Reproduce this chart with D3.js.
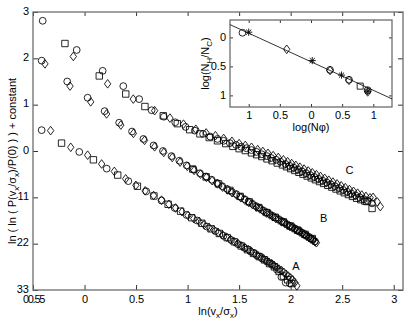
<!DOCTYPE html>
<html><head><meta charset="utf-8">
<script src="https://cdn.jsdelivr.net/npm/d3@7"></script>
<style>
html,body{margin:0;padding:0;background:#fff;}
svg{display:block;font-family:"Liberation Sans",Arial,Helvetica,sans-serif;}
</style></head><body>
<svg id="chart" width="409" height="325"></svg>
<script>
// ---------- main axes ticks ----------
const xTicks = [-0.5,0,0.5,1,1.5,2,2.5,3];
const xTickLabels = ["00.55","0","0.5","1","1.5","2","2.5","3"];
const yTicks = [3,2,1,0,-1,-2,-3];
const yTickLabels = ["3","2","1","0","11","22","33"];

// ---------- series A ----------
const aCircX = [-0.416,-0.051,0.215,0.425,0.599,0.747,0.875,0.990,1.092,1.185,1.270,1.348,1.421,1.488,1.552,1.611,1.668,1.721,1.771,1.820,1.866,1.910,1.952,1.992];
const aCircY = [0.45,-0.02,-0.38,-0.65,-0.87,-1.07,-1.23,-1.38,-1.50,-1.63,-1.73,-1.83,-1.92,-2.01,-2.09,-2.17,-2.25,-2.32,-2.39,-2.46,-2.56,-2.72,-2.84,-2.86];
const aSqX = [-0.223,0.086,0.322,0.513,0.673,0.811,0.932,1.040,1.138,1.227,1.308,1.384,1.454,1.520,1.581,1.639,1.694,1.746,1.795,1.842,1.887,1.930,1.971,2.011];
const aSqY = [0.17,-0.19,-0.52,-0.76,-0.97,-1.15,-1.30,-1.44,-1.56,-1.68,-1.78,-1.87,-1.96,-2.05,-2.13,-2.21,-2.28,-2.35,-2.43,-2.50,-2.60,-2.70,-2.78,-2.86];
const aDiaX = [-0.329,-0.134,0.030,0.166,0.289,0.399,0.498,0.588,0.670,0.747,0.818,0.884,0.946,1.004,1.060,1.112,1.161,1.209,1.254,1.297,1.339,1.379,1.417,1.454,1.490,1.524,1.557,1.589,1.620,1.651,1.680,1.708,1.736,1.763,1.789,1.815,1.840,1.864,1.888,1.911,1.934,1.956,1.977,1.999,2.020,2.040,2.060];
const aDiaY = [0.44,0.08,-0.09,-0.28,-0.44,-0.60,-0.74,-0.86,-0.96,-1.06,-1.15,-1.23,-1.31,-1.39,-1.46,-1.52,-1.59,-1.65,-1.70,-1.76,-1.81,-1.86,-1.91,-1.96,-2.00,-2.05,-2.09,-2.13,-2.17,-2.21,-2.25,-2.29,-2.32,-2.36,-2.40,-2.43,-2.47,-2.51,-2.55,-2.58,-2.62,-2.66,-2.70,-2.74,-2.78,-2.84,-2.91];

// ---------- series B ----------
const bCircX = [-0.416,-0.168,0.030,0.195,0.336,0.461,0.571,0.670,0.761,0.844,0.920,0.991,1.058,1.120,1.179,1.234,1.286,1.336,1.384,1.429,1.472,1.514,1.554,1.592,1.629,1.665,1.699,1.733,1.765,1.796,1.826,1.856,1.884,1.912,1.939,1.965,1.991,2.016,2.040,2.064,2.087,2.110,2.132,2.153,2.175,2.195,2.216,2.236];
const bCircY = [1.95,1.50,1.15,0.86,0.61,0.42,0.26,0.12,0.00,-0.11,-0.21,-0.31,-0.40,-0.48,-0.55,-0.62,-0.69,-0.76,-0.82,-0.88,-0.93,-0.99,-1.04,-1.09,-1.14,-1.19,-1.23,-1.28,-1.32,-1.36,-1.40,-1.44,-1.47,-1.51,-1.54,-1.58,-1.61,-1.64,-1.67,-1.70,-1.73,-1.76,-1.79,-1.82,-1.85,-1.88,-1.91,-1.95];
const bSqX = [1.05,1.18,1.30,1.41,1.51,1.60,1.69,1.77,1.85,1.93,2.00,2.07,2.14,2.21];
const bSqY = [-0.39,-0.56,-0.71,-0.85,-0.98,-1.10,-1.22,-1.33,-1.43,-1.53,-1.62,-1.71,-1.80,-1.89];
const bDiaX = [-0.384,-0.141,0.060,0.214,0.352,0.474,0.582,0.680,0.769,0.851,0.927,0.997,1.063,1.125,1.183,1.238,1.290,1.340,1.387,1.432,1.475,1.517,1.556,1.594,1.631,1.667,1.701,1.734,1.766,1.797,1.827,1.857,1.885,1.913,1.940,1.966,1.992,2.017,2.041,2.065,2.088,2.111,2.133,2.154,2.176,2.196,2.217,2.237,2.250];
const bDiaY = [1.88,1.40,1.06,0.80,0.56,0.38,0.23,0.09,-0.03,-0.14,-0.24,-0.33,-0.42,-0.50,-0.57,-0.64,-0.71,-0.78,-0.84,-0.90,-0.95,-1.01,-1.06,-1.11,-1.16,-1.21,-1.25,-1.30,-1.34,-1.38,-1.42,-1.46,-1.49,-1.53,-1.56,-1.60,-1.63,-1.66,-1.69,-1.72,-1.75,-1.78,-1.81,-1.84,-1.87,-1.90,-1.93,-1.96,-1.98];

// ---------- series C ----------
const cCircX = [-0.406,-0.076,0.176,0.376,0.53,0.651,0.77,0.88,0.98,1.07,1.15,1.22,1.29,1.35,1.41,1.47,1.52,1.57,1.62,1.67,1.72,1.77,1.81,1.86,1.90,1.95,1.99,2.03,2.07,2.11,2.15,2.19,2.23,2.27,2.31,2.35,2.39,2.43,2.47,2.51,2.55,2.59,2.63,2.67,2.71,2.75,2.79];
const cCircY = [2.81,2.18,1.73,1.40,1.12,0.88,0.74,0.62,0.52,0.44,0.37,0.31,0.26,0.22,0.17,0.13,0.09,0.06,0.02,-0.02,-0.07,-0.11,-0.15,-0.19,-0.23,-0.28,-0.32,-0.36,-0.40,-0.44,-0.48,-0.52,-0.56,-0.60,-0.64,-0.68,-0.72,-0.76,-0.80,-0.84,-0.88,-0.92,-0.96,-1.00,-1.04,-1.08,-1.13];
const cSqX = [-0.19,0.143,0.40,0.586,0.764,0.90,1.02,1.12,1.21,1.29,1.37,1.44,1.50,1.56,1.62,1.67,1.72,1.77,1.82,1.87,1.92,1.96,2.00,2.04,2.08,2.12,2.16,2.20,2.24,2.28,2.32,2.36,2.40,2.44,2.48,2.52,2.56,2.60,2.64,2.68,2.72,2.74,2.79];
const cSqY = [2.32,1.62,1.23,0.96,0.76,0.59,0.46,0.37,0.29,0.22,0.16,0.10,0.05,0.01,-0.04,-0.08,-0.12,-0.17,-0.21,-0.26,-0.30,-0.34,-0.38,-0.42,-0.46,-0.50,-0.54,-0.58,-0.62,-0.66,-0.70,-0.74,-0.78,-0.82,-0.86,-0.90,-0.94,-0.98,-1.02,-1.05,-1.08,-1.09,-1.24];
const cDiaX = [-0.109,0.224,0.473,0.68,0.829,0.96,1.08,1.18,1.27,1.35,1.43,1.50,1.56,1.62,1.68,1.73,1.78,1.83,1.88,1.93,1.97,2.01,2.05,2.09,2.13,2.17,2.21,2.25,2.29,2.33,2.37,2.41,2.45,2.49,2.53,2.57,2.61,2.65,2.69,2.73,2.77,2.80,2.84,2.87];
const cDiaY = [2.04,1.45,1.12,0.87,0.71,0.58,0.47,0.39,0.33,0.27,0.21,0.16,0.12,0.08,0.03,-0.01,-0.05,-0.10,-0.14,-0.19,-0.23,-0.27,-0.31,-0.35,-0.39,-0.43,-0.47,-0.51,-0.55,-0.59,-0.63,-0.67,-0.71,-0.75,-0.79,-0.83,-0.87,-0.91,-0.95,-0.98,-1.01,-1.00,-1.10,-1.20];

// series labels (data coordinates)
const seriesNames = ["A","B","C"];
const seriesLabelX = [2.05,2.32,2.57];
const seriesLabelY = [-2.48,-1.45,-0.41];

// ---------- inset ----------
const insetXTicks = [-1,-0.5,0,0.5,1];
const insetXTickLabels = ["1","0.5","0","0.5","1"];
const insetYTicks = [0,0.5,1];
const insetYTickLabels = ["0","0.5","1"];
const insetCircX = [-1.10,0.305,0.61,0.91];
const insetCircY = [-0.08,0.56,0.73,0.91];
const insetStarX = [-1.0,0.02,0.49,0.91];
const insetStarY = [-0.09,0.40,0.65,0.93];
const insetDiaX = [-0.39,0.305,0.61,0.91];
const insetDiaY = [0.205,0.57,0.74,0.94];
const insetSqX = [0.79];
const insetSqY = [0.84];
const fitX = [-1.3,1.3];
const fitY = [-0.22,1.06];

// ================= drawing =================
const svg = d3.select("#chart");
const M = {l:33, r:403, t:12, b:290};
const x = d3.scaleLinear().domain([-0.5,3.09]).range([M.l,M.r]);
const y = d3.scaleLinear().domain([3,-3]).range([M.t,M.b]);
const frameColor = "#6e6e6e";

svg.append("rect").attr("width",409).attr("height",325).attr("fill","#fff");

function styleAxis(g){
  g.select(".domain").remove();
  g.selectAll(".tick line").attr("stroke","#000").attr("stroke-width",0.8);
  g.selectAll(".tick text").attr("fill","#000").style("font-size","11px")
    .style("font-family",'"Liberation Sans",Arial,sans-serif');
}
// bottom
svg.append("g").attr("transform",`translate(0,${M.b})`)
  .call(d3.axisBottom(x).tickValues(xTicks).tickFormat((d,i)=>xTickLabels[i]).tickSize(-5).tickPadding(5))
  .call(styleAxis)
  .call(g=>g.selectAll(".tick text").filter((d,i)=>i===0).style("letter-spacing","-1.3px"));
// top
svg.append("g").attr("transform",`translate(0,${M.t})`)
  .call(d3.axisTop(x).tickValues(xTicks).tickFormat("").tickSize(-4)).call(styleAxis);
// left
svg.append("g").attr("transform",`translate(${M.l},0)`)
  .call(d3.axisLeft(y).tickValues(yTicks).tickFormat((d,i)=>yTickLabels[i]).tickSize(-5).tickPadding(4))
  .call(styleAxis)
  .call(g=>g.selectAll(".tick text").attr("dy","0.2em"));
// right
svg.append("g").attr("transform",`translate(${M.r},0)`)
  .call(d3.axisRight(y).tickValues(yTicks).tickFormat("").tickSize(-5)).call(styleAxis);

svg.append("rect").attr("x",M.l).attr("y",M.t).attr("width",M.r-M.l).attr("height",M.b-M.t)
  .attr("fill","none").attr("stroke",frameColor).attr("stroke-width",1.3);

// markers
const plot = svg.append("g");
function drawMarkers(g, xs, ys, shape, sx, sy, s){
  const data = d3.zip(xs, ys);
  const sel = g.append("g").selectAll("path").data(data).join("path")
    .attr("transform",d=>`translate(${sx(d[0])},${sy(d[1])})`)
    .attr("fill","none").attr("stroke","#000").attr("stroke-width",0.85);
  if(shape==="circle"){
    sel.attr("d", d3.arc()({innerRadius:0,outerRadius:3.4*s,startAngle:0,endAngle:2*Math.PI}));
  } else if(shape==="square"){
    const h=3.2*s; sel.attr("d",`M${-h},${-h}H${h}V${h}H${-h}Z`);
  } else if(shape==="diamond"){
    const w=3.2*s, h=4.3*s; sel.attr("d",`M0,${-h}L${w},0L0,${h}L${-w},0Z`);
  } else if(shape==="star"){
    const a=3.6*s, b=2.6*s;
    sel.attr("d",`M${-a},0H${a}M0,${-a}V${a}M${-b},${-b}L${b},${b}M${-b},${b}L${b},${-b}`).attr("stroke-width",0.9);
  }
}
drawMarkers(plot,cDiaX,cDiaY,"diamond",x,y,1);
drawMarkers(plot,cSqX,cSqY,"square",x,y,1);
drawMarkers(plot,cCircX,cCircY,"circle",x,y,1);
drawMarkers(plot,bDiaX,bDiaY,"diamond",x,y,1);
drawMarkers(plot,bSqX,bSqY,"square",x,y,1);
drawMarkers(plot,bCircX,bCircY,"circle",x,y,1);
drawMarkers(plot,aDiaX,aDiaY,"diamond",x,y,1);
drawMarkers(plot,aSqX,aSqY,"square",x,y,1);
drawMarkers(plot,aCircX,aCircY,"circle",x,y,1);

svg.append("g").selectAll("text").data(seriesNames).join("text")
  .attr("x",(d,i)=>x(seriesLabelX[i])).attr("y",(d,i)=>y(seriesLabelY[i]))
  .attr("text-anchor","middle").attr("dy","0.36em").style("font-size","11px").text(d=>d);

// axis labels
const xl = svg.append("text").attr("x",(M.l+M.r)/2).attr("y",315).attr("text-anchor","middle").style("font-size","11px");
xl.append("tspan").text("ln(v");
xl.append("tspan").attr("dy",3).style("font-size","8px").text("x");
xl.append("tspan").attr("dy",-3).text("/σ");
xl.append("tspan").attr("dy",3).style("font-size","8px").text("x");
xl.append("tspan").attr("dy",-3).text(")");

const yl = svg.append("text").attr("transform","translate(16,161) rotate(-90)").attr("text-anchor","middle").style("font-size","11px");
yl.append("tspan").text("ln (  ln ( P(v");
yl.append("tspan").attr("dy",3).style("font-size","8px").text("x");
yl.append("tspan").attr("dy",-3).text("/σ");
yl.append("tspan").attr("dy",3).style("font-size","8px").text("x");
yl.append("tspan").attr("dy",-3).text(")/P(0) ) ) + constant");

// ================= inset =================
const I = {l:230, r:392, t:20, b:107};
const ix = d3.scaleLinear().domain([-1.3,1.3]).range([I.l,I.r]);
const iy = d3.scaleLinear().domain([-0.3,1.2]).range([I.t,I.b]);
const inset = svg.append("g");
inset.append("rect").attr("x",I.l).attr("y",I.t).attr("width",I.r-I.l).attr("height",I.b-I.t).attr("fill","#fff");
inset.append("g").attr("transform",`translate(0,${I.b})`)
  .call(d3.axisBottom(ix).tickValues(insetXTicks).tickFormat((d,i)=>insetXTickLabels[i]).tickSize(-3).tickPadding(4))
  .call(styleAxis);
inset.append("g").attr("transform",`translate(0,${I.t})`)
  .call(d3.axisTop(ix).tickValues(insetXTicks).tickFormat("").tickSize(-3)).call(styleAxis);
inset.append("g").attr("transform",`translate(${I.l},0)`)
  .call(d3.axisLeft(iy).tickValues(insetYTicks).tickFormat((d,i)=>insetYTickLabels[i]).tickSize(-3).tickPadding(4))
  .call(styleAxis);
inset.append("g").attr("transform",`translate(${I.r},0)`)
  .call(d3.axisRight(iy).tickValues(insetYTicks).tickFormat("").tickSize(-3)).call(styleAxis);
inset.append("rect").attr("x",I.l).attr("y",I.t).attr("width",I.r-I.l).attr("height",I.b-I.t)
  .attr("fill","none").attr("stroke",frameColor).attr("stroke-width",1.3);

inset.append("path").datum(d3.zip(fitX,fitY))
  .attr("d",d3.line().x(d=>ix(d[0])).y(d=>iy(d[1])))
  .attr("stroke","#000").attr("stroke-width",0.8).attr("fill","none");
drawMarkers(inset,insetCircX,insetCircY,"circle",ix,iy,1);
drawMarkers(inset,insetDiaX,insetDiaY,"diamond",ix,iy,1);
drawMarkers(inset,insetSqX,insetSqY,"square",ix,iy,0.95);
drawMarkers(inset,insetStarX,insetStarY,"star",ix,iy,1);

const ixl = inset.append("text").attr("x",(I.l+I.r)/2).attr("y",131).attr("text-anchor","middle").style("font-size","11px").text("log(Nφ)");
const iyl = inset.append("text").attr("transform",`translate(209,${(I.t+I.b)/2}) rotate(-90)`).attr("text-anchor","middle").style("font-size","11px");
iyl.append("tspan").text("log(N");
iyl.append("tspan").attr("dy",3).style("font-size","8px").text("H");
iyl.append("tspan").attr("dy",-3).text("/N");
iyl.append("tspan").attr("dy",3).style("font-size","8px").text("C");
iyl.append("tspan").attr("dy",-3).text(")");
</script>
</body></html>
